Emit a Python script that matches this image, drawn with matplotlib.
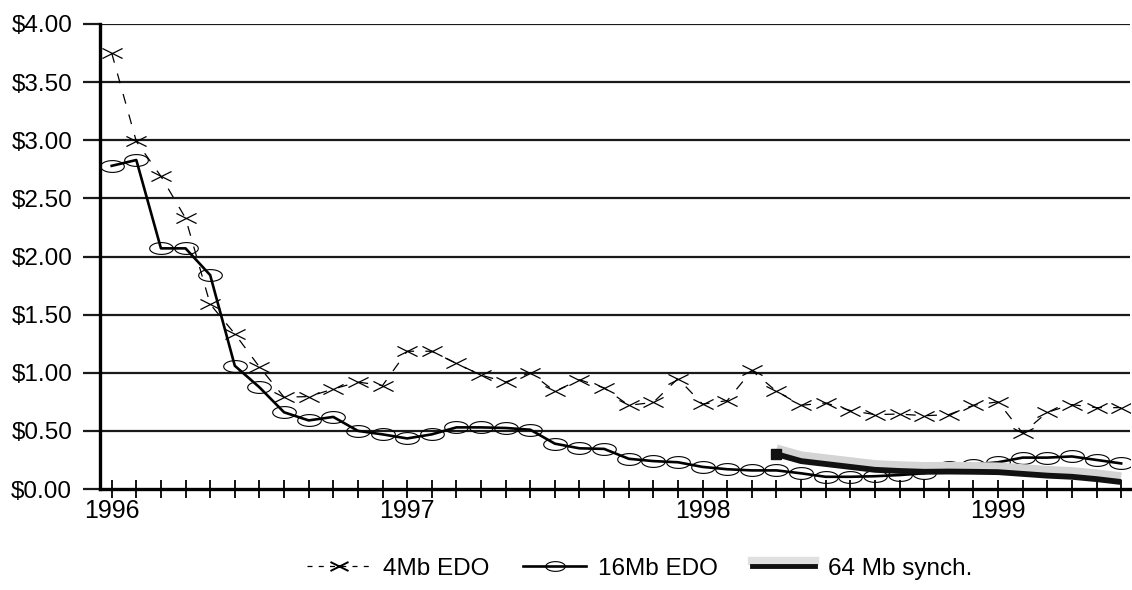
import numpy as np
import matplotlib
matplotlib.use("Agg")
import matplotlib.pyplot as plt
from matplotlib.path import Path
from matplotlib.lines import Line2D
import matplotlib.patheffects as pe

plt.rcParams['font.family'] = ['Liberation Sans', 'DejaVu Sans']

# ---- data ----
months = ['Jan-96', 'Feb-96', 'Mar-96', 'Apr-96', 'May-96', 'Jun-96', 'Jul-96', 'Aug-96',
          'Sep-96', 'Oct-96', 'Nov-96', 'Dec-96',
          'Jan-97', 'Feb-97', 'Mar-97', 'Apr-97', 'May-97', 'Jun-97', 'Jul-97', 'Aug-97',
          'Sep-97', 'Oct-97', 'Nov-97', 'Dec-97',
          'Jan-98', 'Feb-98', 'Mar-98', 'Apr-98', 'May-98', 'Jun-98', 'Jul-98', 'Aug-98',
          'Sep-98', 'Oct-98', 'Nov-98', 'Dec-98',
          'Jan-99', 'Feb-99', 'Mar-99', 'Apr-99', 'May-99', 'Jun-99']
year_labels = ['1996', '1997', '1998', '1999']
year_months = ['Jan-96', 'Jan-97', 'Jan-98', 'Jan-99']

edo_4mb = [3.75, 2.99, 2.69, 2.33, 1.59, 1.335, 1.05, 0.79, 0.795, 0.86, 0.92, 0.89,
           1.185, 1.185, 1.08, 0.98, 0.92, 1.00, 0.84, 0.94, 0.87, 0.72, 0.745, 0.95,
           0.73, 0.76, 1.02, 0.84, 0.72, 0.74, 0.675, 0.64, 0.645, 0.63, 0.64, 0.72,
           0.75, 0.48, 0.66, 0.726, 0.70, 0.70]
edo_16mb = [2.78, 2.83, 2.07, 2.07, 1.84, 1.06, 0.875, 0.66, 0.59, 0.62, 0.50, 0.47,
            0.435, 0.47, 0.53, 0.53, 0.525, 0.51, 0.39, 0.35, 0.345, 0.26, 0.24, 0.23,
            0.19, 0.17, 0.16, 0.16, 0.135, 0.105, 0.105, 0.11, 0.12, 0.135, 0.19, 0.21,
            0.23, 0.27, 0.27, 0.28, 0.25, 0.22]
synch_64mb_months = ['Apr-98', 'May-98', 'Jun-98', 'Jul-98', 'Aug-98', 'Sep-98', 'Oct-98',
                     'Nov-98', 'Dec-98', 'Jan-99', 'Feb-99', 'Mar-99', 'Apr-99', 'May-99',
                     'Jun-99']
synch_64mb = [0.30, 0.24, 0.215, 0.19, 0.165, 0.155, 0.148, 0.15, 0.148, 0.145,
              0.13, 0.115, 0.105, 0.085, 0.06]

y_ticks = [0.0, 0.5, 1.0, 1.5, 2.0, 2.5, 3.0, 3.5, 4.0]

# ---- positions (category axis) ----
pos = {m: i for i, m in enumerate(months)}
x_all = [pos[m] for m in months]
x_64 = [pos[m] for m in synch_64mb_months]

# ---- markers ----
x_marker = Path([(-1, -0.5), (1, 0.5), (-1, 0.5), (1, -0.5)],
                [Path.MOVETO, Path.LINETO, Path.MOVETO, Path.LINETO])
t = np.linspace(0, 2 * np.pi, 64)
ell_marker = Path(np.column_stack([np.cos(t), 0.5 * np.sin(t)]), closed=True)

fig = plt.figure(figsize=(11.32, 5.90), dpi=100)
ax = fig.add_axes([100 / 1132, 1 - 489 / 590, 1030 / 1132, (489 - 24) / 590])

grid_c = '#1a1a1a'
for yv in y_ticks[1:]:
    ax.axhline(yv, color=grid_c, lw=1.6, zorder=1)

ax.plot(x_all, edo_4mb, color='black', lw=0.9, ls=(0, (8, 9)),
        marker=x_marker, markersize=14.5, markeredgewidth=0.9, zorder=3,
        label='4Mb EDO')
ax.plot(x_all, edo_16mb, color='black', lw=1.9,
        marker=ell_marker, markersize=17, markeredgewidth=0.8,
        markerfacecolor='none', zorder=4, label='16Mb EDO')
ln64, = ax.plot(x_64, synch_64mb, color='#111111', lw=4.2, solid_capstyle='butt',
                zorder=5, label='64 Mb synch.',
                path_effects=[pe.Stroke(offset=(0, 3.5), linewidth=7, foreground='#d4d4d4'),
                              pe.Normal()])
ax.plot(x_64[:1], synch_64mb[:1], marker='s', markersize=7, color='#111111',
        ls='none', zorder=6)

ax.set_xlim(-0.475, 41.36)
ax.set_ylim(0, 4)

ax.set_yticks(y_ticks)
ax.set_yticklabels(['${:.2f}'.format(v) for v in y_ticks])
ax.tick_params(axis='y', direction='out', length=12, width=1.6, color=grid_c,
               pad=8, labelsize=17.5)

ax.set_xticks(x_all, minor=True)
ax.set_xticks([pos[m] for m in year_months])
ax.set_xticklabels(year_labels)
ax.tick_params(axis='x', which='both', direction='inout', length=13, width=1.3,
               color='black', pad=1, labelsize=18)

for s in ['top', 'right']:
    ax.spines[s].set_visible(False)
ax.spines['left'].set_linewidth(2.4)
ax.spines['bottom'].set_linewidth(2.4)

handles = [
    Line2D([], [], color='black', lw=0.9, ls=(0, (4, 5)), marker=x_marker,
           markersize=13, markeredgewidth=1.4),
    Line2D([], [], color='black', lw=1.9, marker=ell_marker, markersize=14,
           markeredgewidth=0.8, markerfacecolor='none'),
    Line2D([], [], color='#111111', lw=3.5,
           path_effects=[pe.Stroke(offset=(0, 4), linewidth=6, foreground='#e0e0e0'),
                         pe.Normal()]),
]
fig.legend(handles, ['4Mb EDO', '16Mb EDO', '64 Mb synch.'], loc='center',
           bbox_to_anchor=(0.565, 0.036), ncol=3, frameon=False, fontsize=17.5,
           handlelength=2.6, handletextpad=0.5, columnspacing=1.4)

fig.savefig('out.png', dpi=100)
